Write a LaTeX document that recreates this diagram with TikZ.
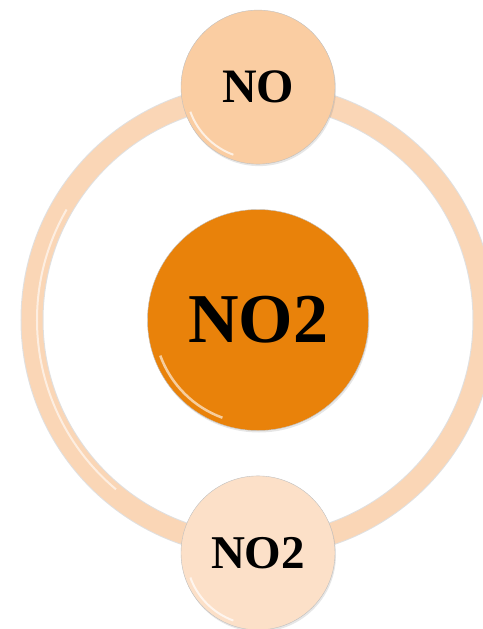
\documentclass[tikz,border=0pt]{standalone}
\usepackage{fontspec}
\setmainfont{Liberation Serif}
\usepackage{tikz}
\usetikzlibrary{positioning,shadows}

\definecolor{ringpeach}{HTML}{FAD6B6}
\definecolor{topfill}{HTML}{FACDA2}
\definecolor{lowfill}{HTML}{FCE0C8}
\definecolor{hubfill}{HTML}{E9820A}

\begin{document}
\begin{tikzpicture}[x=1pt, y=1pt, node distance=45pt]
		\tikzset{atom/.style={circle, inner sep=0pt, draw=black!25, thin, drop shadow={opacity=0.2, shadow xshift=1pt, shadow yshift=-2pt}, font=\bfseries}}
		\tikzset{orbit/.style={line width=21pt, draw=ringpeach}}
		\useasboundingbox (0,0) rectangle (482,-629);
		
		\node[atom, fill=hubfill, minimum size=221pt, font=\bfseries\fontsize{70}{70}\selectfont] (hub) at (258,-320) {NO2}; 
		
		%ring
		\draw[line width=23pt, black!12] (hub.center) circle (226);
		\draw[orbit] (hub.center) circle (226);
		\draw[white, opacity=0.6, line width=2pt] (hub.center) ++(150:221) arc (150:230:221);
		
		\node[atom, fill=topfill, minimum size=154pt, above=of hub, font=\bfseries\fontsize{48}{48}\selectfont] (no) {NO}; 
		\node[atom, fill=lowfill, minimum size=154pt, below=of hub, font=\bfseries\fontsize{47}{47}\selectfont] (no2) {NO2}; 
		
		%glanzlichter
		\draw[white, opacity=0.7, line width=2pt] (no.center) ++(200:72) arc (200:250:72);
		\draw[white, opacity=0.7, line width=2pt] (no2.center) ++(200:72) arc (200:250:72);
		\draw[white, opacity=0.6, line width=2.5pt] (hub.center) ++(200:104) arc (200:250:104);
		
	\end{tikzpicture}
\end{document}
